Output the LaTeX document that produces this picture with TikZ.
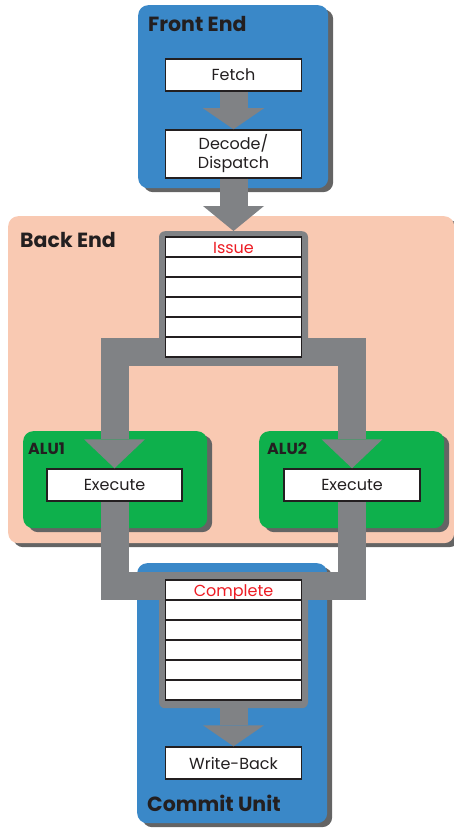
\documentclass[tikz,border=0pt]{standalone}
\usepackage{fontspec}
\setmainfont{Poppins}
\usetikzlibrary{arrows.meta,positioning,shadows}
\definecolor{feblue}{RGB}{58,136,200}
\definecolor{besalmon}{RGB}{249,201,178}
\definecolor{alugreen}{RGB}{14,176,76}
\definecolor{pipegray}{RGB}{128,130,133}
\definecolor{shadowgray}{RGB}{100,100,100}
\definecolor{qred}{RGB}{237,28,36}
\definecolor{inkblack}{RGB}{35,31,32}

\begin{document}
\begin{tikzpicture}[x=1pt, y=-1pt, >=Latex, every node/.style={font=\fontsize{16}{19}\selectfont, inner sep=0pt, text=inkblack}]
\tikzstyle{panel}=[anchor=north west, rounded corners=10pt, drop shadow={shadow xshift=5pt, shadow yshift=-4pt, fill=shadowgray, opacity=1}]
\tikzstyle{ttl}=[anchor=base west, font=\fontsize{20.5}{22}\selectfont\bfseries]
\tikzstyle{b}=[draw=inkblack, fill=white, line width=1.5pt, minimum height=32pt, minimum width=136pt, align=center]
\tikzstyle{qrow}=[b, minimum height=20pt, text height=12pt, text depth=0pt, text=qred]
\tikzstyle{frame}=[fill=pipegray, rounded corners=6pt, minimum width=149pt, anchor=north]
\tikzstyle{pipe}=[draw=pipegray, line width=28pt, line join=miter]
\useasboundingbox (0,0) rectangle (454,829);

% stage panels
\node[panel, fill=besalmon, minimum width=446pt, minimum height=327pt] (backend) at (8,216) {};
\node[panel, fill=feblue, minimum width=190pt, minimum height=183pt] (frontend) at (138,5) {};
\node[panel, fill=feblue, minimum width=190pt, minimum height=260pt] (commit) at (137,563) {};
\node[panel, fill=alugreen, minimum width=184pt, minimum height=97pt] (alu1) at (23,431) {};
\node[panel, fill=alugreen, minimum width=185pt, minimum height=97pt] (alu2) at (259,431) {};

\node[ttl] (fetitle) at (148,32) {Front End};
\node[ttl] (betitle) at (20,247) {Back End};
\node[ttl] (cutitle) at (147,811) {Commit Unit};
\node[ttl, font=\fontsize{16}{18}\selectfont\bfseries] (alu1title) at (28,454) {ALU1};
\node[ttl, font=\fontsize{16}{18}\selectfont\bfseries] (alu2title) at (267,454) {ALU2};

% queue frames
\node[frame, minimum height=134pt] (iqframe) at (233.5,231) {};
\node[frame, minimum height=136pt] (cqframe) at (233.5,572) {};

\node[b] (fetch) at (233.5,75) {Fetch};
\node[b, minimum height=48pt] (decode) at (233.5,154) {Decode/\\Dispatch};
\node[b, minimum width=135pt] (exe1) at (114.5,485) {Execute};
\node[b] (exe2) at (352,485) {Execute};
\node[b] (wb) at (233.5,763) {Write-Back};

% fat arrows
\draw[pipe, -{Triangle[width=61pt, length=21pt, line width=0pt]}] (fetch.south) -- (decode.north);
\draw[pipe, -{Triangle[width=61pt, length=25pt, line width=0pt]}] (decode.south) -- (iqframe.north);
\draw[pipe, -{Triangle[width=61pt, length=21pt, line width=0pt]}] (cqframe.south) -- (wb.north);

\coordinate (split) at (233.5,351.5);
\coordinate (merge) at (233.5,586);
\draw[pipe, -{Triangle[width=61pt, length=29pt, line width=0pt]}] (split) -| (exe1.north);
\draw[pipe, -{Triangle[width=61pt, length=29pt, line width=0pt]}] (split) -| (exe2.north);
\draw[pipe] (exe1.south) |- (merge);
\draw[pipe] (exe2.south) |- (merge);

% queues
\node[qrow] (iq1) at (233.5,247) {Issue};
\foreach \r in {2,...,6} \node[qrow] (iq\r) at (233.5,{227+\r*20}) {};
\node[qrow] (cq1) at (233.5,590) {Complete};
\foreach \r in {2,...,6} \node[qrow] (cq\r) at (233.5,{570+\r*20}) {};
\end{tikzpicture}
\end{document}
